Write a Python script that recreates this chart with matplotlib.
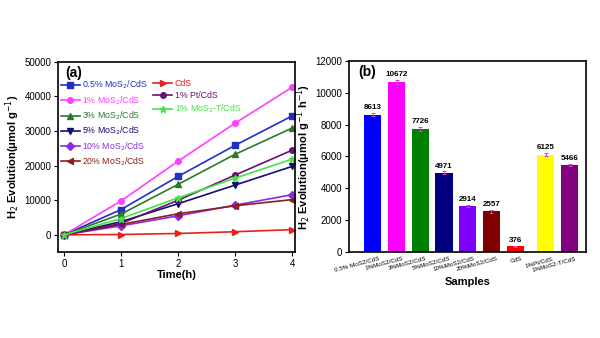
import numpy as np
import matplotlib
matplotlib.use("Agg")
import matplotlib.pyplot as plt

plt.rcParams['font.family'] = ['Liberation Sans', 'DejaVu Sans']

# panel (a): H2 evolution over time
hours = [0, 1, 2, 3, 4]
series_names = ['0.5% MoS$_2$/CdS', '1% MoS$_2$/CdS', '3% MoS$_2$/CdS', '5% MoS$_2$/CdS',
                '10% MoS$_2$/CdS', '20% MoS$_2$/CdS', 'CdS', '1% Pt/CdS', '1% MoS$_2$-T/CdS']
s_05 = [0, 7300, 16900, 25900, 34400]
s_1 = [0, 9800, 21300, 32300, 42700]
s_3 = [0, 6000, 14600, 23300, 30900]
s_5 = [0, 3800, 9000, 14400, 19800]
s_10 = [0, 2600, 5500, 8600, 11600]
s_20 = [0, 3000, 6100, 8400, 10200]
s_cds = [0, 100, 400, 900, 1500]
s_pt = [0, 3300, 10000, 17300, 24500]
s_t = [0, 4700, 10700, 16400, 21900]

# panel (b): rates
samples = ['0.5% MoS2/CdS', '1%MoS2/CdS', '3%MoS2/CdS', '5%MoS2/CdS', '10%MoS2/CdS',
           '20%MoS2/CdS', 'CdS', '1%Pt/CdS', '1%MoS2-T/CdS']
rates = [8613, 10672, 7726, 4971, 2914, 2557, 376, 6125, 5466]
errs = [90, 110, 100, 90, 70, 80, 40, 90, 80]

line_colors = ['#1f30c8', '#ff40ff', '#2a7a2a', '#10106e', '#8a2be2', '#8b1e1e', '#e8201a', '#6a1070', '#44e444']
markers = ['s', 'o', '^', 'v', 'D', '<', '>', 'o', '*']
bar_colors = ['#0000ff', '#ff00ff', '#008000', '#000080', '#8000ff', '#800000', '#ff0000', '#ffff00', '#800080']

fig = plt.figure(figsize=(6, 3.38), dpi=100)
ax1 = fig.add_axes([0.097, 0.254, 0.395, 0.563])
ax2 = fig.add_axes([0.582, 0.254, 0.395, 0.566])

all_series = [s_05, s_1, s_3, s_5, s_10, s_20, s_cds, s_pt, s_t]
handles = []
for name, ys, c, m in zip(series_names, all_series, line_colors, markers):
    h, = ax1.plot(hours, ys, color=c, marker=m, markersize=4 if m != '*' else 5,
                  linewidth=1.2, label=name)
    handles.append(h)

ax1.set_xlim(-0.1, 4.05)
ax1.set_ylim(-5000, 50000)
ax1.set_xticks([0, 1, 2, 3, 4])
ax1.set_yticks(range(0, 50001, 10000))
ax1.set_xlabel('Time(h)', fontsize=8, fontweight='bold', labelpad=1)
ax1.set_ylabel('H$_2$ Evolution(μmol g$^{-1}$)', fontsize=8, fontweight='bold', labelpad=2)
ax1.tick_params(labelsize=7, length=3, width=0.8, pad=2)
ax1.text(0.03, 0.98, '(a)', transform=ax1.transAxes, fontsize=10, fontweight='bold',
         va='top', ha='left')

leg_kw = dict(frameon=False, fontsize=6.3, handlelength=2.2, handletextpad=0.3,
              labelspacing=0.32, borderaxespad=0.0, borderpad=0.0)
leg1 = ax1.legend(handles=handles[:6], loc='upper left', bbox_to_anchor=(0.01, 0.91), **leg_kw)
for txt, c in zip(leg1.get_texts(), line_colors[:6]):
    txt.set_color(c)
ax1.add_artist(leg1)
leg2 = ax1.legend(handles=handles[6:], loc='upper left', bbox_to_anchor=(0.40, 0.91), **leg_kw)
for txt, c in zip(leg2.get_texts(), line_colors[6:]):
    txt.set_color(c)
for sp in ax1.spines.values():
    sp.set_linewidth(1.2)

# bar chart with a gap before the Pt bar
pos = np.array([0, 1, 2, 3, 4, 5, 6, 7.3, 8.3])
ax2.bar(pos, rates, width=0.72, color=bar_colors, yerr=errs,
        error_kw=dict(ecolor='#cc44cc', elinewidth=0.7, capsize=1.5, capthick=0.7))
for x, v, e in zip(pos, rates, errs):
    ax2.text(x, v + e + 120, str(v), ha='center', va='bottom', fontsize=5.8, fontweight='bold')
ax2.set_xlim(-1.0, 9.0)
ax2.set_ylim(0, 12000)
ax2.set_yticks(range(0, 12001, 2000))
ax2.set_xticks(pos + 0.25)
ax2.set_xticklabels(samples, rotation=15, fontsize=4.5, ha='right', rotation_mode='anchor')
ax2.set_xlabel('Samples', fontsize=8, fontweight='bold', labelpad=3)
ax2.set_ylabel('H$_2$ Evolution(μmol g$^{-1}$ h$^{-1}$)', fontsize=8, fontweight='bold', labelpad=2)
ax2.tick_params(axis='y', labelsize=7, length=3, width=0.8, pad=2)
ax2.tick_params(axis='x', length=0, pad=3)
ax2.text(0.04, 0.98, '(b)', transform=ax2.transAxes, fontsize=10, fontweight='bold',
         va='top', ha='left')
for sp in ax2.spines.values():
    sp.set_linewidth(1.2)

fig.savefig('out.png', dpi=100)
